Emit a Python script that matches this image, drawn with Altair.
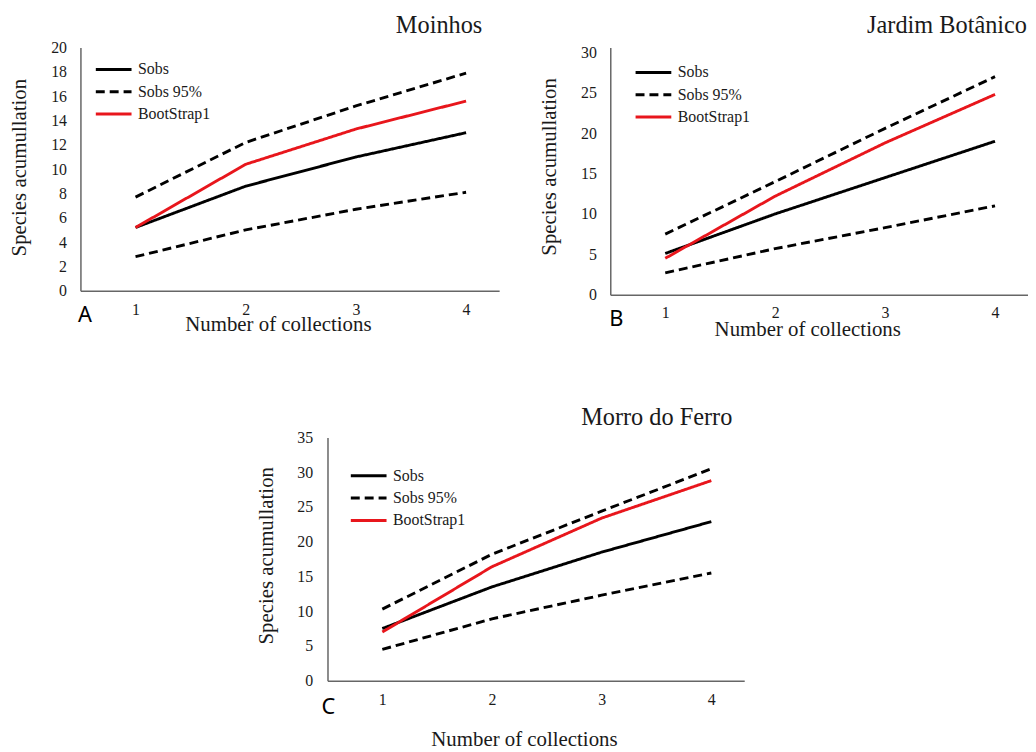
import altair as alt
import pandas as pd

# ---- data ----
collections = [1, 2, 3, 4]
series_names = ["Sobs", "Sobs 95%", "BootStrap1"]

A_sobs = [5.2, 8.6, 11.0, 13.0]
A_upper = [7.7, 12.2, 15.2, 17.9]
A_lower = [2.8, 5.0, 6.7, 8.1]
A_boot = [5.2, 10.4, 13.3, 15.6]

B_sobs = [5.1, 10.0, 14.5, 19.0]
B_upper = [7.5, 14.0, 20.6, 27.0]
B_lower = [2.7, 5.7, 8.3, 11.0]
B_boot = [4.5, 12.2, 18.8, 24.8]

C_sobs = [7.5, 13.5, 18.5, 22.9]
C_upper = [10.3, 18.2, 24.4, 30.5]
C_lower = [4.5, 8.9, 12.3, 15.5]
C_boot = [7.0, 16.4, 23.4, 28.8]

SERIF = "Liberation Serif"
TXT = "#1a1a1a"


def make_df(sobs, upper, lower, boot):
    rows = []
    for line, series, vals in [("sobs", "Sobs", sobs), ("upper", "Sobs 95%", upper),
                               ("lower", "Sobs 95%", lower), ("boot", "BootStrap1", boot)]:
        for x, y in zip(collections, vals):
            rows.append({"x": x, "y": y, "series": series, "line": line})
    return pd.DataFrame(rows)


def panel(title, letter, sobs, upper, lower, boot, ymax, ydom, ystep, width, height, xmax,
          title_dx, title_off, ytx, yty, xty, xlab_pad, ylab_pad, leg_x, leg_y, let_dx, let_dy):
    df = make_df(sobs, upper, lower, boot)
    legend = alt.Legend(title=None, orient="none", legendX=leg_x, legendY=leg_y)
    lines = alt.Chart(df).mark_line(strokeWidth=2.9).encode(
        x=alt.X("x:Q",
                scale=alt.Scale(domain=[0.5, xmax], nice=False, zero=False),
                axis=alt.Axis(values=collections, format="d", title="Number of collections",
                              labelPadding=xlab_pad, labelBaseline="middle",
                              titleX=width / 2 - 12, titleY=xty, titleBaseline="middle")),
        y=alt.Y("y:Q",
                scale=alt.Scale(domain=[0, ydom], nice=False),
                axis=alt.Axis(values=list(range(0, ymax + 1, ystep)), title="Species acumullation",
                              labelPadding=ylab_pad, titleX=ytx, titleY=yty, titleBaseline="middle")),
        color=alt.Color("series:N",
                        scale=alt.Scale(domain=series_names, range=["#000000", "#000000", "#e8161c"]),
                        legend=legend),
        strokeDash=alt.StrokeDash("series:N",
                                  scale=alt.Scale(domain=series_names, range=[[1, 0], [9, 5], [1, 0]]),
                                  legend=legend),
        detail="line:N",
    )
    lab = alt.Chart(pd.DataFrame({"t": [letter]})).mark_text(
        font="Noto Sans", fontSize=22, align="center", baseline="middle", color="#000000"
    ).encode(text="t:N", x=alt.value(let_dx), y=alt.value(height + let_dy))
    return alt.layer(lines, lab).properties(
        width=width, height=height,
        title=alt.TitleParams(text=title, anchor="end", frame="group", dx=title_dx, offset=title_off,
                              baseline="middle", font=SERIF, fontSize=24.5, fontWeight="normal",
                              color=TXT),
    )


A = panel("Moinhos", "A", A_sobs, A_upper, A_lower, A_boot, 20, 20, 2, 422, 245, 4.3,
          -17, -10.5, -61, 120.5, 34, 19, 14, 14, 11, 4.5, 24.5)
B = panel("Jardim Botânico", "B", B_sobs, B_upper, B_lower, B_boot, 30, 30.6, 5, 421, 249, 4.3,
          -1, -5.5, -61, 119.7, 35, 18, 14, 24, 14, 6, 25)
C = panel("Morro do Ferro", "C", C_sobs, C_upper, C_lower, C_boot, 35, 35, 5, 420, 245, 4.3,
          -12, -12.5, -61, 118.7, 59, 19, 15, 22, 27.5, 1, 26.5)

spacer = alt.Chart(pd.DataFrame({"s": [0]})).mark_point(opacity=0, size=0).encode(
    x=alt.value(1), y=alt.value(1)
).properties(width=176.5, height=10)

row1 = alt.hconcat(A, B, spacing=40).resolve_scale(
    color="independent", strokeDash="independent"
).resolve_legend(color="independent", strokeDash="independent")
row2 = alt.hconcat(spacer, C, spacing=0).resolve_scale(
    color="independent", strokeDash="independent"
).resolve_legend(color="independent", strokeDash="independent")

chart = alt.vconcat(row1, row2, spacing=66).resolve_scale(
    color="independent", strokeDash="independent"
).resolve_legend(color="independent", strokeDash="independent").properties(
    padding={"left": 0, "top": 1, "right": 0, "bottom": 0}
).configure_view(stroke=None).configure_axis(
    grid=False, ticks=False, tickSize=0,
    labelFont=SERIF, labelFontSize=16, labelColor=TXT,
    titleFont=SERIF, titleFontSize=21, titleFontWeight="normal", titleColor=TXT,
    domainColor="#666666", domainWidth=1.5,
).configure_legend(
    labelFont=SERIF, labelFontSize=16, labelColor=TXT,
    symbolType="stroke", symbolSize=1296, symbolStrokeWidth=3,
    labelOffset=5, clipHeight=22, rowPadding=0.5, padding=0,
)

chart.save("out.html", embed_options={"renderer": "svg", "actions": False})
